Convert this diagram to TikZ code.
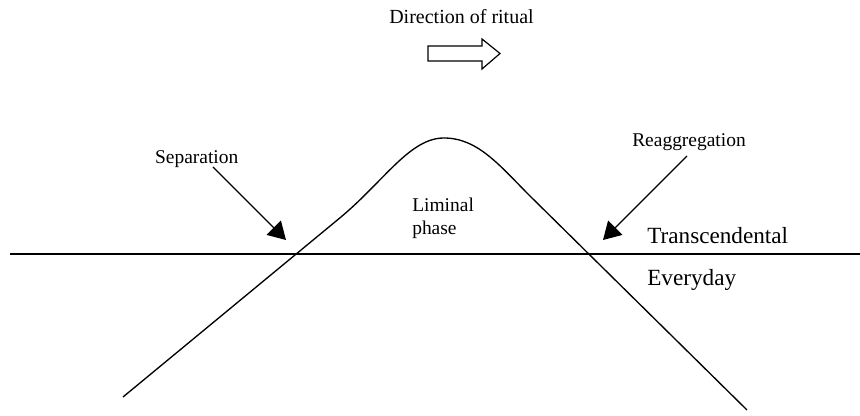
\documentclass[tikz,border=0pt]{standalone}
\usepackage{fontspec}
\setmainfont{Liberation Serif}
\usetikzlibrary{arrows.meta}
\begin{document}
\begin{tikzpicture}[x=0.75pt,y=-0.75pt,
  lbl/.style={inner sep=0pt, font=\fontsize{14.6pt}{17pt}\selectfont},
  big/.style={inner sep=0pt, anchor=base west, font=\fontsize{17.4pt}{20pt}\selectfont},
  pointer/.style={line width=1pt, -{Triangle[length=13pt,width=15pt]}},
  ln/.style={line width=1pt, line join=round}]
\useasboundingbox (0,0) rectangle (860,416);
% title and block arrow
\node[lbl, anchor=base, font=\fontsize{15pt}{17pt}\selectfont] (dir) at (461.5,24) {Direction of ritual};
\draw[line width=0.9pt, line join=miter] (428,46) -- (482,46) -- (482,39) -- (500,53.5) -- (482,69) -- (482,61) -- (428,61) -- cycle;
% horizontal line
\coordinate (hl) at (10,254);
\coordinate (hr) at (860,254);
\draw[ln] (hl) -- (hr);
% curve
\coordinate (c0) at (123,397);
\coordinate (c1) at (341,217);
\coordinate (top) at (444,138);
\coordinate (c2) at (530,196);
\coordinate (c3) at (747,410);
\draw[ln] (c0) -- (c1) .. controls (385,180) and (410,138) .. (top)
  .. controls (478,138) and (500,166) .. (c2) -- (c3);
% labels
\node[lbl, anchor=base] (sep) at (196.7,163.3) {Separation};
\node[lbl, anchor=base] (rea) at (689,146.7) {Reaggregation};
\node[lbl, anchor=base west] (lim1) at (412,211.7) {Liminal};
\node[lbl, anchor=base west] (lim2) at (412,235) {phase};
\node[big] (tr) at (647,243.3) {Transcendental};
\node[big] (ev) at (647,286) {Everyday};
% pointer arrows
\coordinate (sepS) at (213,167);
\coordinate (sepT) at (286,240);
\coordinate (reaS) at (687,156);
\coordinate (reaT) at (603,240);
\draw[pointer] (sepS) -- (sepT);
\draw[pointer] (reaS) -- (reaT);
\end{tikzpicture}
\end{document}
